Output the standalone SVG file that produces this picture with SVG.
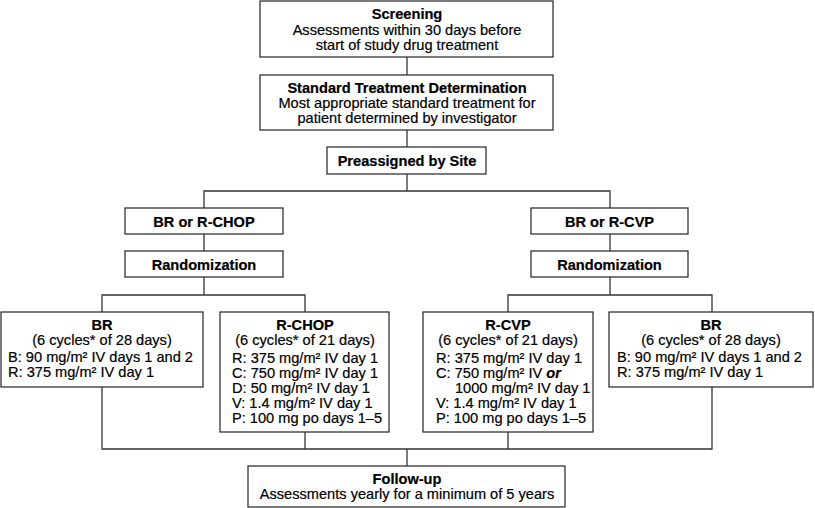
<svg xmlns="http://www.w3.org/2000/svg" width="815" height="508" viewBox="0 0 815 508">
<style>
  .box { fill: #ffffff; stroke: #333333; stroke-width: 1.3; }
  .conn { fill: none; stroke: #333333; stroke-width: 1.3; }
  text { font-family: "Liberation Sans", Arial, Helvetica, sans-serif; font-size: 14.6px; fill: #000000; stroke: #000000; stroke-width: 0.2; }
  .c { text-anchor: middle; }
  .b { font-weight: bold; }
  .bi { font-weight: bold; font-style: italic; }
</style>
<rect x="0" y="0" width="815" height="508" fill="#ffffff"/>
<g id="connectors">
  <path class="conn" d="M407,57 V75"/>
  <path class="conn" d="M407,130 V147"/>
  <path class="conn" d="M407,174 V191"/>
  <path class="conn" d="M204,208 V191 H610 V208"/>
  <path class="conn" d="M204,234 V251"/>
  <path class="conn" d="M610,234 V251"/>
  <path class="conn" d="M204,277 V295"/>
  <path class="conn" d="M102,312 V295 H305 V312"/>
  <path class="conn" d="M610,277 V295"/>
  <path class="conn" d="M508,312 V295 H712 V312"/>
  <path class="conn" d="M102,387 V449 H712 V387"/>
  <path class="conn" d="M305,432 V449"/>
  <path class="conn" d="M508,432 V449"/>
  <path class="conn" d="M407,449 V466"/>
</g>
<g id="screening">
  <rect class="box" x="260" y="1" width="293" height="56"/>
  <text class="c b" x="407" y="19">Screening</text>
  <text class="c" x="407" y="34.5">Assessments within 30 days before</text>
  <text class="c" x="407" y="49.5">start of study drug treatment</text>
</g>
<g id="standard-treatment">
  <rect class="box" x="260" y="75" width="293" height="55"/>
  <text class="c b" x="407" y="92.5">Standard Treatment Determination</text>
  <text class="c" x="407" y="108">Most appropriate standard treatment for</text>
  <text class="c" x="407" y="123">patient determined by investigator</text>
</g>
<g id="preassigned">
  <rect class="box" x="327" y="147" width="159" height="27"/>
  <text class="c b" x="407" y="166">Preassigned by Site</text>
</g>
<g id="br-or-rchop">
  <rect class="box" x="125" y="208" width="158" height="26"/>
  <text class="c b" x="204" y="226.5">BR or R-CHOP</text>
</g>
<g id="randomization-left">
  <rect class="box" x="125" y="251" width="158" height="26"/>
  <text class="c b" x="204" y="269.5">Randomization</text>
</g>
<g id="br-or-rcvp">
  <rect class="box" x="531" y="208" width="157" height="26"/>
  <text class="c b" x="609.5" y="226.5">BR or R-CVP</text>
</g>
<g id="randomization-right">
  <rect class="box" x="531" y="251" width="157" height="26"/>
  <text class="c b" x="609.5" y="269.5">Randomization</text>
</g>
<g id="br-left">
  <rect class="box" x="1" y="312" width="202" height="75"/>
  <text class="c b" x="102" y="330">BR</text>
  <text class="c" x="102" y="345">(6 cycles* of 28 days)</text>
  <text x="8" y="361.5">B: 90 mg/m² IV days 1 and 2</text>
  <text x="8" y="376.5">R: 375 mg/m² IV day 1</text>
</g>
<g id="rchop">
  <rect class="box" x="220" y="312" width="169" height="120"/>
  <text class="c b" x="305" y="330">R-CHOP</text>
  <text class="c" x="305" y="345">(6 cycles* of 21 days)</text>
  <text x="232" y="363">R: 375 mg/m² IV day 1</text>
  <text x="232" y="378">C: 750 mg/m² IV day 1</text>
  <text x="232" y="393">D: 50 mg/m² IV day 1</text>
  <text x="232" y="408">V: 1.4 mg/m² IV day 1</text>
  <text x="232" y="423">P: 100 mg po days 1–5</text>
</g>
<g id="rcvp">
  <rect class="box" x="423" y="312" width="170" height="120"/>
  <text class="c b" x="508" y="330">R-CVP</text>
  <text class="c" x="508" y="345">(6 cycles* of 21 days)</text>
  <text x="436" y="363">R: 375 mg/m² IV day 1</text>
  <text x="436" y="378">C: 750 mg/m² IV <tspan class="bi">or</tspan></text>
  <text x="455" y="393">1000 mg/m² IV day 1</text>
  <text x="436" y="408">V: 1.4 mg/m² IV day 1</text>
  <text x="436" y="423">P: 100 mg po days 1–5</text>
</g>
<g id="br-right">
  <rect class="box" x="609" y="312" width="204" height="75"/>
  <text class="c b" x="711" y="330">BR</text>
  <text class="c" x="711" y="345">(6 cycles* of 28 days)</text>
  <text x="617" y="361.5">B: 90 mg/m² IV days 1 and 2</text>
  <text x="617" y="376.5">R: 375 mg/m² IV day 1</text>
</g>
<g id="follow-up">
  <rect class="box" x="248" y="466" width="317" height="41"/>
  <text class="c b" x="407" y="484">Follow-up</text>
  <text class="c" x="407" y="499">Assessments yearly for a minimum of 5 years</text>
</g>
</svg>
